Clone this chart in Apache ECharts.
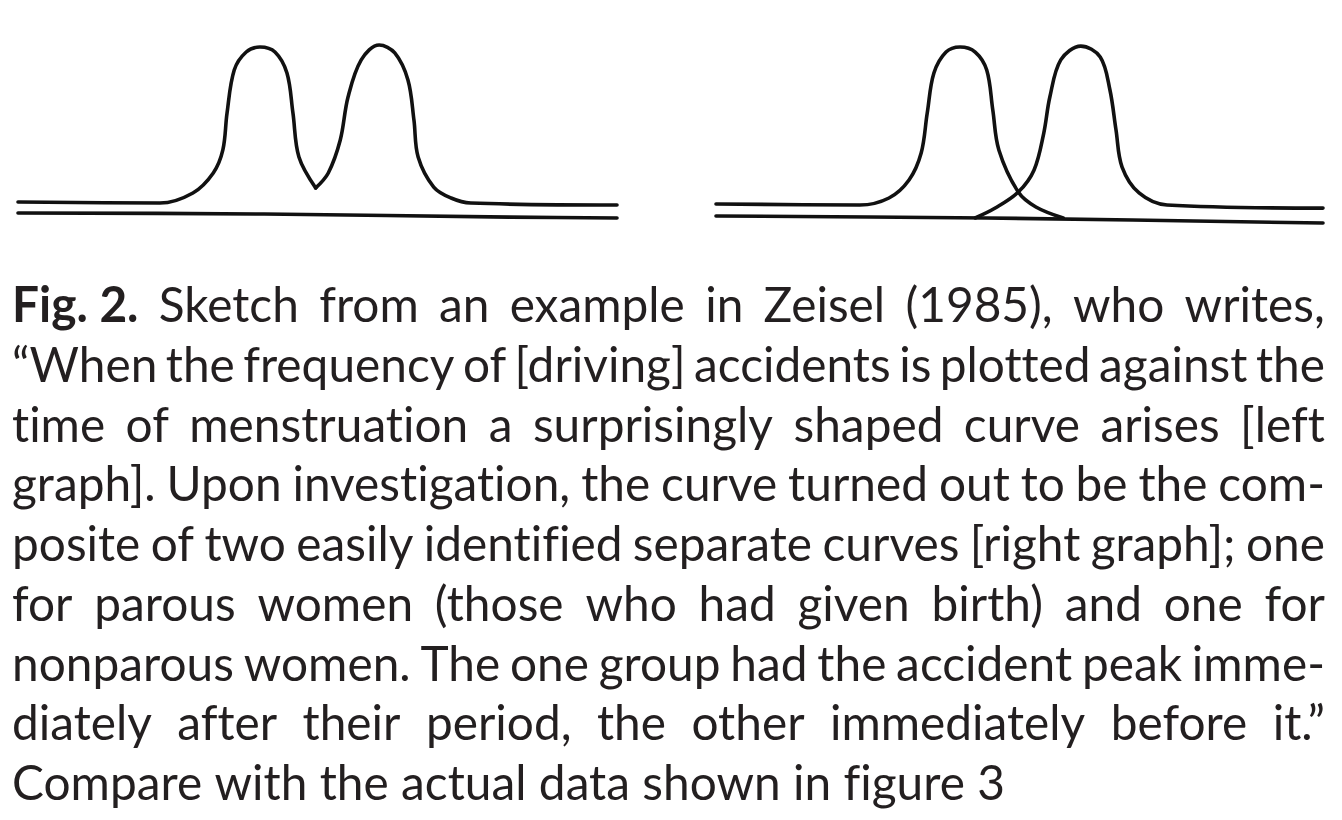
<!DOCTYPE html>
<html>
<head>
<meta charset="utf-8">
<script src="https://cdn.jsdelivr.net/npm/echarts@6/dist/echarts.min.js"></script>
<style>
html,body{margin:0;padding:0;background:#fff;}
#chart{width:1342px;height:820px;}
#chart text, #chart tspan{font-variant-ligatures:none;font-feature-settings:"liga" 0,"clig" 0;}
</style>
</head>
<body>
<div id="chart"></div>
<script>
// ---- Data (sketch units: x = position along cycle 0..100, y = accident frequency 0..105) ----
// Left graph: composite curve (two humps meeting in a sharp valley)
const leftHumpA = [[0,12.8],[23.7,12.2],[29.2,17.8],[32.6,28.9],[34.2,41.7],[34.9,62.2],[36.1,86.1],[38.1,96.1],[40.4,98.9],[42.9,96.1],[44.9,84.4],[45.9,62.2],[46.9,37.8],[49.7,20.6]];
const leftHumpB = [[49.7,20.6],[51.8,28.9],[53.8,47.2],[55.1,71.1],[57.3,91.7],[60.3,100],[62.9,95.6],[65.1,80.6],[66.1,58.3],[66.8,37.8],[69.4,21.1],[72.3,15],[75.6,12.2],[100,11.1]];
const leftBaseline = [[0,6.7],[41.1,6.1],[82.1,4.4],[100,3.9]];
// Right graph: two separate curves
const rightCurveA = [[0,11.7],[23.7,11.1],[28.5,15],[31.8,25],[33.8,40],[34.8,62.2],[35.9,84.4],[37.9,96.1],[40.2,98.9],[42.7,96.1],[44.6,86.1],[45.6,63.9],[46.6,41.7],[49.8,18.3],[52.7,10],[57.2,3.9]];
const rightCurveB = [[42.7,3.9],[46.0,9.4],[49.8,18.3],[52.4,30.6],[54.0,51.1],[55.0,71.1],[56.8,91.7],[60.1,99.4],[63.3,93.3],[64.9,75],[65.9,52.8],[66.9,32.2],[69.7,17.8],[74.3,11.1],[100,9.4]];
const rightBaseline = [[0,5],[44.6,3.9],[100,1.1]];

// ---- Caption text ----
const captionBold = 'Fig. 2.';
const captionLines = [
  'Sketch from an example in Zeisel (1985), who writes,',
  '\u201CWhen the frequency of [driving] accidents is plotted against the',
  'time of menstruation a surprisingly shaped curve arises [left',
  'graph]. Upon investigation, the curve turned out to be the com-',
  'posite of two easily identified separate curves [right graph]; one',
  'for parous women (those who had given birth) and one for',
  'nonparous women. The one group had the accident peak imme-',
  'diately after their period, the other immediately before it.\u201D',
  'Compare with the actual data shown in figure 3'
];

const chart = echarts.init(document.getElementById('chart'), null, {renderer: 'svg'});

const FS = 49, FAM = 'Lato', COLOR = '#231f20';
const ctx = document.createElement('canvas').getContext('2d');
try { ctx.letterSpacing = '0.01px'; } catch (e) {}
function measure(t, bold){ ctx.font = (bold ? 'bold ' : '') + FS + 'px ' + FAM; return ctx.measureText(t).width; }

const LEFT = 12, RIGHT = 1325, LAST_RIGHT = 1005;
const sx = (LAST_RIGHT - LEFT) / measure(captionLines[captionLines.length - 1], false);
const graphics = [];
captionLines.forEach(function(line, i){
  const y = 303 + 59.75 * i;
  const units = line.split(' ').map(function(t){ return {t: t, b: false}; });
  if (i === 0) units.unshift({t: captionBold, b: true});
  const justify = i < captionLines.length - 1;
  const widths = units.map(function(u){ return measure(u.t, u.b) * sx; });
  const total = widths.reduce(function(a, b){ return a + b; }, 0);
  const gap = justify ? (RIGHT - LEFT - total) / (units.length - 1) : measure(' ', false) * sx;
  let x = LEFT;
  units.forEach(function(u, k){
    graphics.push({
      type: 'text', x: x, y: y, scaleX: sx, scaleY: 1, silent: true,
      style: {text: u.t, fontSize: FS, fontFamily: FAM, fontWeight: u.b ? 'bold' : 'normal',
              fill: COLOR, verticalAlign: 'middle', align: 'left'}
    });
    x += widths[k] + gap;
  });
});

const lineStyle = {color: '#111', width: 3.6, cap: 'round', join: 'round'};
function mk(data, gi, smooth){
  return {type: 'line', xAxisIndex: gi, yAxisIndex: gi, data: data, smooth: smooth, symbol: 'none',
          clip: false, silent: true, lineStyle: lineStyle, animation: false};
}

chart.setOption({
  backgroundColor: '#fff',
  animation: false,
  grid: [
    {left: 18, right: 725, top: 36, height: 189},
    {left: 716, right: 19, top: 36, height: 189}
  ],
  xAxis: [0, 1].map(function(i){ return {type: 'value', gridIndex: i, min: 0, max: 100, show: false}; }),
  yAxis: [0, 1].map(function(i){ return {type: 'value', gridIndex: i, min: 0, max: 105, show: false}; }),
  series: [
    mk(leftHumpA, 0, 0.35), mk(leftHumpB, 0, 0.35), mk(leftBaseline, 0, 0.3),
    mk(rightCurveA, 1, 0.35), mk(rightCurveB, 1, 0.35), mk(rightBaseline, 1, 0.3)
  ],
  graphic: graphics
});
</script>
</body>
</html>
